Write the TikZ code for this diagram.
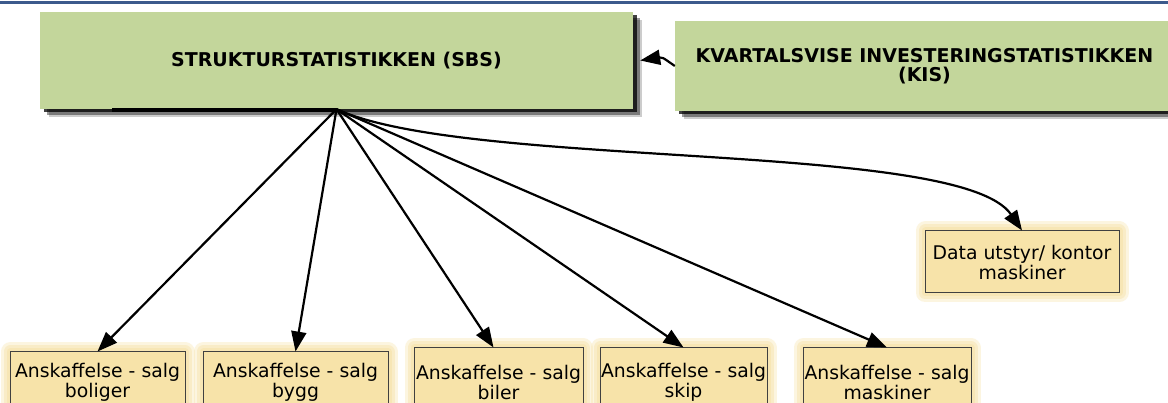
\documentclass[tikz,border=0pt]{standalone}
\usepackage{fontspec}
\setmainfont{DejaVu Sans}
\usetikzlibrary{arrows.meta,shadows}
\definecolor{topblue}{HTML}{3C5A8C}
\definecolor{sagegreen}{HTML}{C3D69B}
\definecolor{paleyellow}{HTML}{F7E3A9}
\begin{document}
\begin{tikzpicture}[x=1pt,y=-1pt,
  headbox/.style={fill=sagegreen, inner sep=0pt, align=center,
    font=\bfseries\fontsize{19}{19.5}\selectfont,
    drop shadow={shadow xshift=8.5pt,shadow yshift=-8.5pt,fill=black,opacity=.2},
    drop shadow={shadow xshift=6.5pt,shadow yshift=-6.5pt,fill=black,opacity=.4},
    drop shadow={shadow xshift=3.5pt,shadow yshift=-3.5pt,fill=black,opacity=.75}},
  leafbox/.style={draw=black!75, line width=1pt, fill=paleyellow, inner sep=0pt,
    align=center, font=\fontsize{18.8}{20}\selectfont,
    preaction={draw=paleyellow, draw opacity=.35, line width=19pt, line join=round},
    preaction={draw=paleyellow, draw opacity=.45, line width=13pt, line join=round},
    preaction={draw=paleyellow, draw opacity=.6, line width=7pt, line join=round}},
  arr/.style={line width=2.2pt, -{Triangle[length=20pt,width=15pt]}}]
\clip (0,0) rectangle (1168,403);
\useasboundingbox (0,0) rectangle (1168,403);
\fill[white] (0,0) rectangle (1168,403);

% rule along the top edge
\draw[topblue, line width=3pt] (0,3) -- (1168,3);

% statistics sources
\node[headbox, minimum width=593pt, minimum height=97pt] (sbs) at (336.5,60.5)
  {STRUKTURSTATISTIKKEN (SBS)};
\node[headbox, minimum width=499pt, minimum height=90pt] (kis) at (924.5,66)
  {KVARTALSVISE INVESTERINGSTATISTIKKEN\\(KIS)};
\fill[black] (112,108.5) rectangle (337,112);

% asset categories
\node[leafbox, minimum width=194pt, minimum height=62pt] (data) at (1022,262)
  {Data utstyr/ kontor\\maskiner};
\node[leafbox, minimum width=175pt, minimum height=60pt] (b1) at (97.5,382)
  {Anskaffelse - salg\\boliger};
\node[leafbox, minimum width=185pt, minimum height=60pt] (b2) at (295.5,382)
  {Anskaffelse - salg\\bygg};
\node[leafbox, minimum width=169pt, minimum height=68pt] (b3) at (498.5,382)
  {Anskaffelse - salg\\biler};
\node[leafbox, minimum width=167pt, minimum height=68pt] (b4) at (683.5,382)
  {Anskaffelse - salg\\skip};
\node[leafbox, minimum width=168pt, minimum height=68pt] (b5) at (887,382)
  {Anskaffelse - salg\\maskiner};

% connectors
\draw[arr] (kis.west) .. controls (662,57) .. ([xshift=7pt,yshift=0pt]sbs.east);
\draw[arr] (sbs.south) -- (b1.north);
\draw[arr] (sbs.south) -- (b2.north);
\draw[arr] (sbs.south) -- ([xshift=-5pt]b3.north);
\draw[arr] (sbs.south) -- (b4.north);
\draw[arr] (sbs.south) -- (b5.north);
\draw[arr] (sbs.south) .. controls (470,170) and (960,140) .. (data.north);
\end{tikzpicture}
\end{document}
